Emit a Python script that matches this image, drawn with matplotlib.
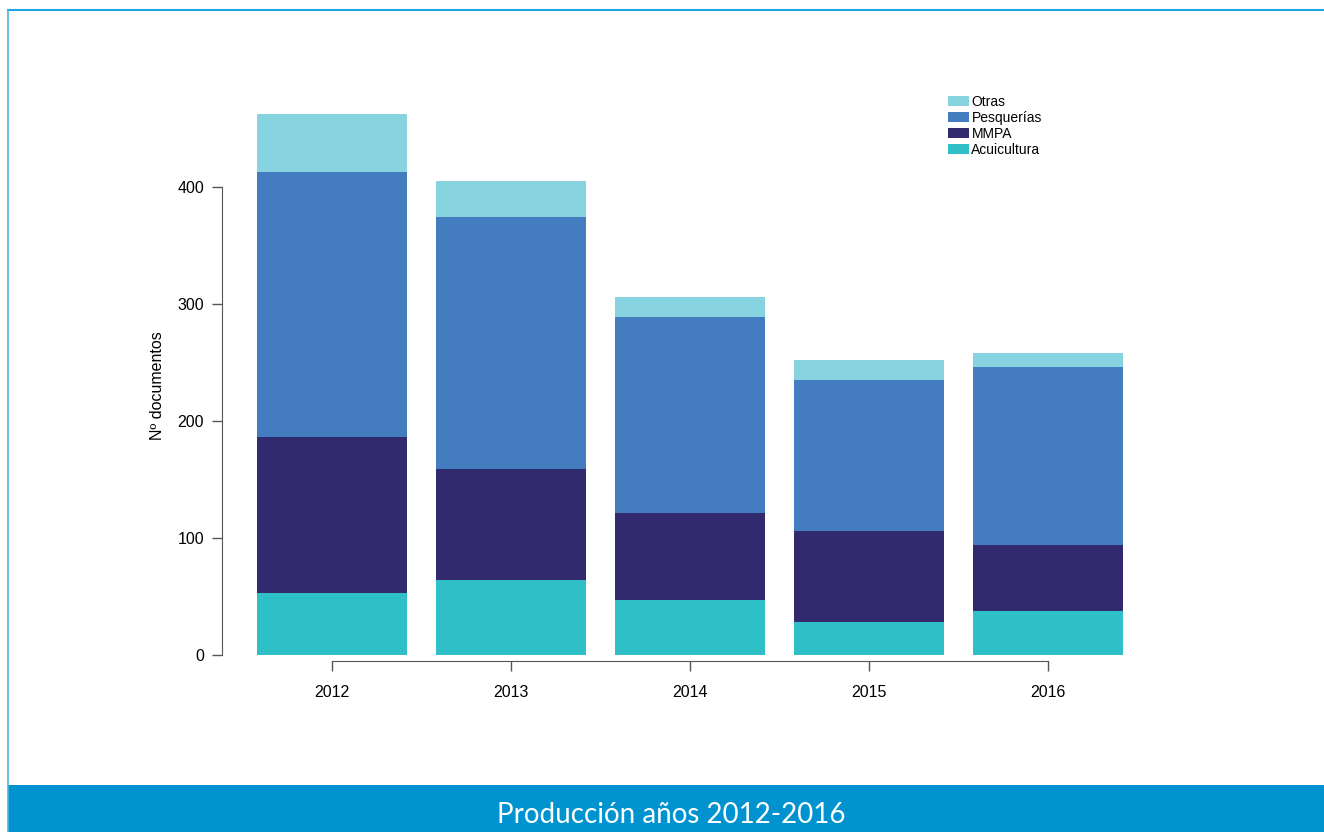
import matplotlib.pyplot as plt
import numpy as np
from matplotlib.patches import Rectangle

plt.rcParams['font.family'] = ['Liberation Sans', 'DejaVu Sans']

years = ['2012', '2013', '2014', '2015', '2016']
acuicultura = np.array([53, 64, 47, 28, 38])
mmpa = np.array([133, 95, 74, 78, 56])
pesquerias = np.array([227, 215, 168, 129, 152])
otras = np.array([49, 31, 17, 17, 12])

series = [('Acuicultura', acuicultura, '#2fbfc7'),
          ('MMPA', mmpa, '#322a6e'),
          ('Pesquerías', pesquerias, '#437dbf'),
          ('Otras', otras, '#87d3df')]

W, H = 1324, 832
fig = plt.figure(figsize=(W / 100, H / 100), dpi=100)

# frame lines and bottom banner
fig.add_artist(plt.Line2D([8 / W, 1], [1 - 10 / H, 1 - 10 / H], color='#1aa6e0', lw=1.5))
fig.add_artist(plt.Line2D([8 / W, 8 / W], [0, 1 - 10 / H], color='#4fb3e0', lw=1.2))
fig.add_artist(Rectangle((8 / W, 0), 1, 47 / H, transform=fig.transFigure,
                         color='#0093d0', lw=0))
fig.text(671 / W, 17 / H, 'Producción años 2012-2016', color='white',
         fontsize=20, family=['Lato', 'DejaVu Sans'], ha='center', va='center')

# axes placed in pixel units
left, bottom, top, right = 222, 655, 93.4, 1140
ax = fig.add_axes([left / W, (H - bottom) / H, (right - left) / W, (bottom - top) / H])

x = np.arange(len(years))
base = np.zeros(len(years))
for name, vals, col in series:
    ax.bar(x, vals, bottom=base, width=0.838, color=col, label=name, linewidth=0)
    base += vals

ax.set_xlim(-0.6145, (right - 332) / 179)
ax.set_ylim(0, 480)
ax.set_xticks(x)
ax.set_xticklabels(years)
ax.set_yticks([0, 100, 200, 300, 400])
for s in ['top', 'right']:
    ax.spines[s].set_visible(False)
ax.spines['bottom'].set_position(('outward', 4.3))
ax.spines['bottom'].set_bounds(0, 4)
ax.spines['left'].set_bounds(0, 400)
for s in ['bottom', 'left']:
    ax.spines[s].set_color('#555555')
ax.tick_params(axis='both', colors='#555555', labelcolor='black', labelsize=11.5,
               length=7, width=1, pad=6)
ax.tick_params(axis='x', pad=10)
ax.set_ylabel('Nº documentos', fontsize=11.5)
ax.yaxis.set_label_coords(-0.062, 0.479)

handles, labels = ax.get_legend_handles_labels()
ax.legend(handles[::-1], labels[::-1], loc='upper left', bbox_to_anchor=(0.777, 1.02),
          frameon=False, fontsize=10, handlelength=1.5, handleheight=0.7,
          handletextpad=0.2, labelspacing=0.15)

plt.savefig('out.png', dpi=100)
